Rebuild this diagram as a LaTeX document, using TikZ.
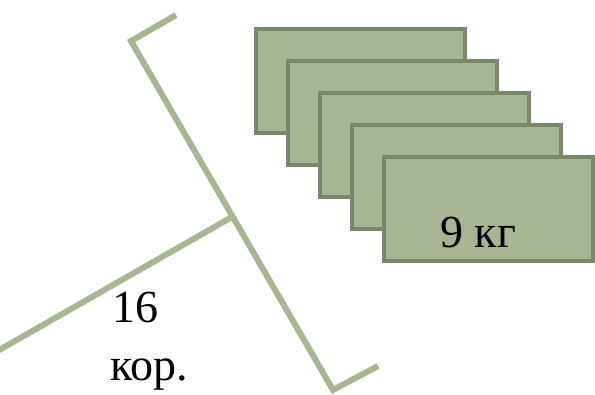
\documentclass[tikz,border=0pt]{standalone}
\usepackage{fontspec}
\setmainfont{Liberation Serif}
\definecolor{stemgreen}{HTML}{A7B593}
\definecolor{boxgreen}{HTML}{A8B592}
\definecolor{boxedge}{HTML}{7A876A}
\tikzset{
  stem/.style    = {stemgreen, line width=6pt},
  crate/.style   = {draw=boxedge, fill=boxgreen, line width=4pt,
                    minimum width=209pt, minimum height=104pt, inner sep=0pt},
  numlab/.style  = {font=\fontsize{46}{50}\selectfont, inner sep=0pt, anchor=base west},
}

\begin{document}
\begin{tikzpicture}[x=1pt, y=-1pt]
\clip (0,0) rectangle (595,394);
\coordinate (topTip)    at (176,15);
\coordinate (topCorner) at (131,41);
\coordinate (joint)     at (232,217);
\coordinate (botCorner) at (333,390);
\coordinate (botTip)    at (378,366);
\coordinate (leftEnd)   at (-6,353);
\draw[stem] (topTip) -- (topCorner) -- (botCorner) -- (botTip);
\draw[stem] (joint) -- (leftEnd);

\foreach \i in {0,...,4}
  \node[crate] (crate\i) at (360+32*\i, 81+32.1*\i) {};
\node[numlab, anchor=base] (mass) at (478,247) {9 кг};

\node[numlab] (count) at (112,322) {16};
\node[numlab] (unit)  at (110,380) {кор.};
\end{tikzpicture}
\end{document}
